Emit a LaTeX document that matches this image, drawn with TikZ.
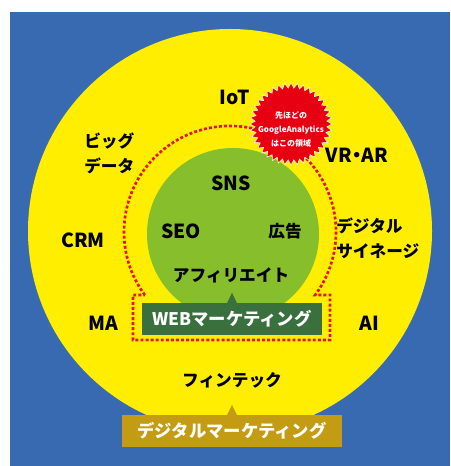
\documentclass[tikz,border=0pt]{standalone}
\usepackage{fontspec}
\newfontfamily\jpfont{Noto Sans CJK JP}
\usetikzlibrary{calc}
\definecolor{bgblue}{RGB}{56,106,178}
\definecolor{sunyellow}{RGB}{255,238,0}
\definecolor{leafgreen}{RGB}{134,190,44}
\definecolor{webgreen}{RGB}{58,112,62}
\definecolor{dmgold}{RGB}{196,156,20}
\definecolor{dotred}{RGB}{228,20,30}
\definecolor{burstred}{RGB}{230,0,18}
\begin{document}
\begin{tikzpicture}[x=0.75pt,y=0.75pt,
  lbl/.style={font=\jpfont\bfseries\fontsize{12.5}{18.75}\selectfont, text=black, inner sep=0},
  lat/.style={font=\jpfont\bfseries\fontsize{14.5}{18}\selectfont, text=black, inner sep=0},
  tag/.style={font=\jpfont\bfseries\fontsize{13}{15}\selectfont, text=white, inner sep=0},
  dotline/.style={draw=dotred, line width=2pt, dash pattern=on 2.2pt off 1.6pt},
  bursttext/.style={font=\jpfont\bfseries\fontsize{6}{10.5}\selectfont, text=white, align=center, inner sep=0}]
\useasboundingbox (0,0) rectangle (450,466);
\fill[white] (0,0) rectangle (450,466);
\fill[bgblue] (10,0) rectangle (450,454);
% outer field and inner core
\fill[sunyellow] (230,235) circle[radius=202];
\fill[leafgreen] (233,232) circle[radius=86];
% dotted boundary around the core and the web tag
\draw[dotline] (144.8,171) arc[start angle=216.5, end angle=-36.5, radius=106]
  -- (330,171) -- (330,126) -- (133,126) -- (133,171) -- cycle;
% starburst badge
\fill[burstred, draw=white, line width=0.4pt]
  plot[samples=81, domain=0:80, variable=\i]
  ({291+(38.5+2.5*cos(\i*180))*cos(\i*4.5)}, {342+(38.5+2.5*cos(\i*180))*sin(\i*4.5)}) -- cycle;
\node[bursttext] (ga) at (291,337) {先ほどの\\GoogleAnalytics\\はこの領域};
% labels in the outer field
\node[lat] (iot) at (235,369) {IoT};
\node[lbl, align=left, anchor=west] (bigdata) at (84,312.5) {ビッグ\\データ};
\node[lat] (vrar) at (357,311) {VR\kern-3.5pt・\kern-3.5pt AR};
\node[lbl, align=left, anchor=west] (signage) at (336,227.5) {デジタル\\サイネージ};
\node[lat] (crm) at (83,226) {CRM};
\node[lat] (ma) at (103,143) {MA};
\node[lat] (ai) at (369,143) {AI};
\node[lbl] (fintech) at (232,86) {フィンテック};
% labels in the core
\node[lat] (sns) at (231,283) {SNS};
\node[lat] (seo) at (181,235) {SEO};
\node[lbl] (ad) at (285,235) {広告};
\node[lbl] (aff) at (231,191) {アフィリエイト};
% tags with pointers
\node[tag, fill=webgreen, minimum width=135pt, minimum height=24pt] (web) at (232,147) {WEBマーケティング};
\fill[webgreen] ($(web.north)+(-5,-0.5)$) -- ($(web.north)+(0,10)$) -- ($(web.north)+(5,-0.5)$) -- cycle;
\node[tag, fill=dmgold, minimum width=165pt, minimum height=24pt] (dm) at (232,35) {デジタルマーケティング};
\fill[dmgold] ($(dm.north)+(-5,-0.5)$) -- ($(dm.north)+(0,10)$) -- ($(dm.north)+(5,-0.5)$) -- cycle;
\end{tikzpicture}
\end{document}
